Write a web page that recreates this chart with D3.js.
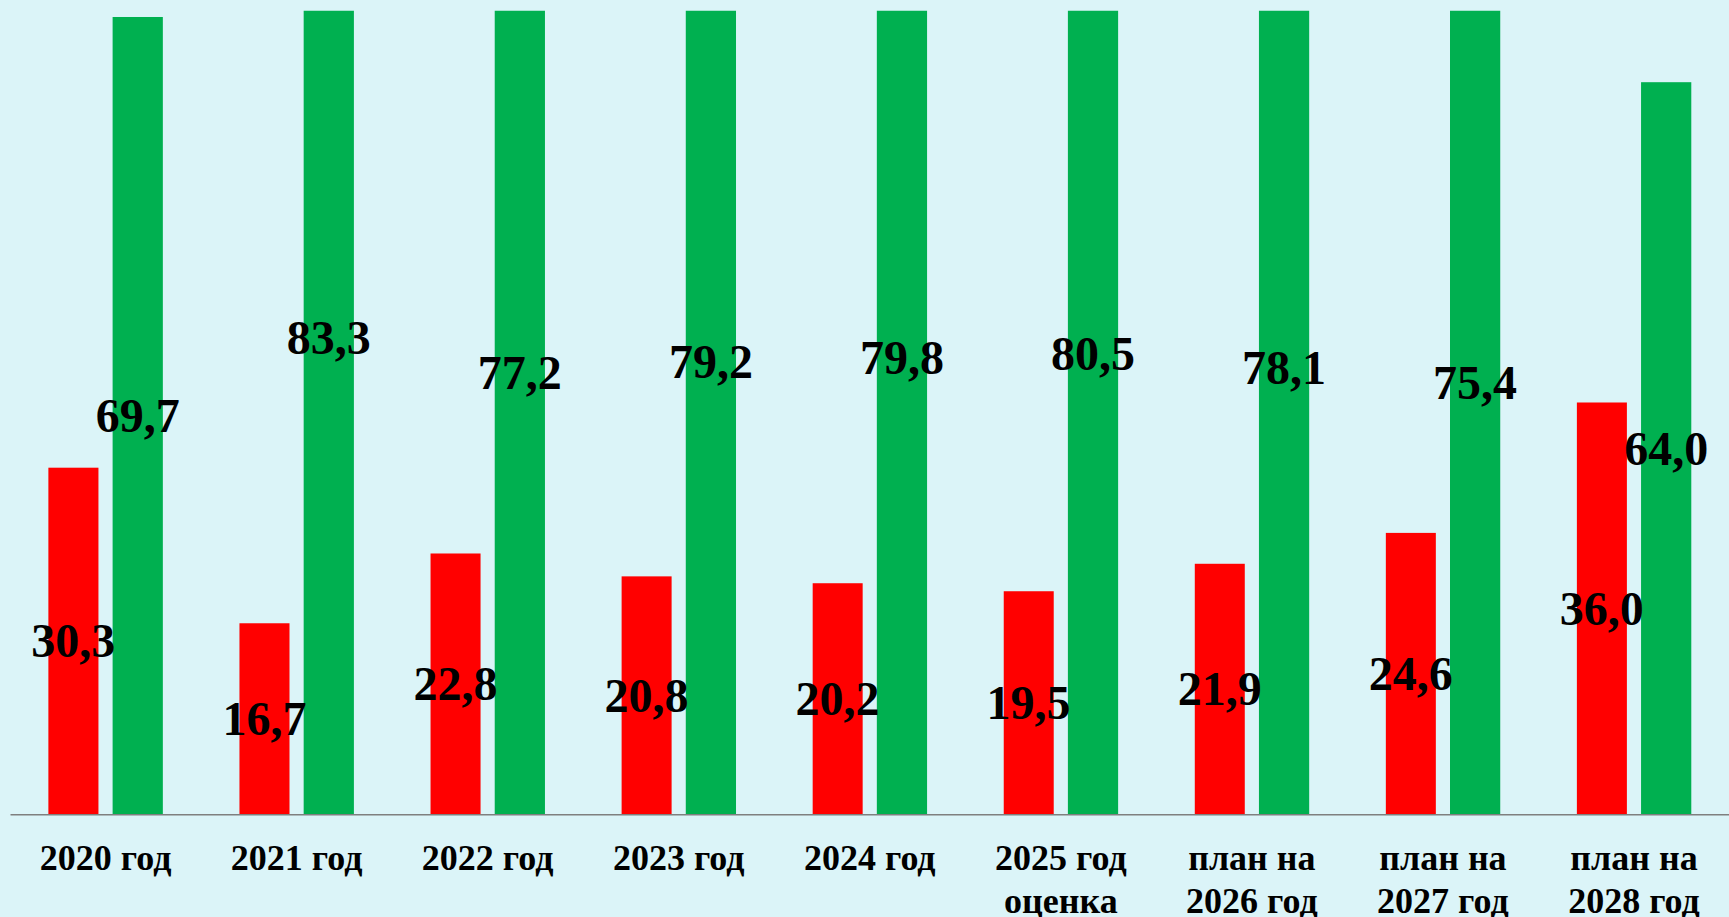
<!DOCTYPE html>
<html>
<head>
<meta charset="utf-8">
<script src="https://cdn.jsdelivr.net/npm/d3@7"></script>
<style>
  html, body { margin: 0; padding: 0; background: #dbf4f8; }
  svg { display: block; }
  .lbl { font-family: "Liberation Serif", "Times New Roman", serif; font-weight: bold; fill: #000; }
</style>
</head>
<body>
<div id="chart"></div>
<script>
var categories = ["2020 год", "2021 год", "2022 год", "2023 год", "2024 год",
    "2025 год\nоценка", "план на\n2026 год", "план на\n2027 год", "план на\n2028 год"];
var seriesKeys = ["red", "green"];
var redValues = [30.3, 16.7, 22.8, 20.8, 20.2, 19.5, 21.9, 24.6, 36.0];
var greenValues = [69.7, 83.3, 77.2, 79.2, 79.8, 80.5, 78.1, 75.4, 64.0];

var width = 1729, height = 917;
var baseY = 814.3, topY = 10.7;
var colors = { red: "#ff0000", green: "#00b050" };

var fmt = function(v) { return d3.format(".1f")(v).replace(".", ","); };

var svg = d3.select("#chart").append("svg")
    .attr("width", width)
    .attr("height", height);

svg.append("rect").attr("width", width).attr("height", height).attr("fill", "#dbf4f8");

var x0 = d3.scaleBand().domain(categories).range([10, 1729.5])
    .paddingInner(0.4).paddingOuter(0.2);
var x1 = d3.scaleBand().domain(seriesKeys).range([0, x0.bandwidth()]).paddingInner(0.22);
// visible part of the value axis ends near 70, taller bars are cut off
var y = d3.scaleLinear().domain([0, 70.25]).range([baseY, topY]);

svg.append("clipPath").attr("id", "plot-clip")
    .append("rect").attr("x", 0).attr("y", topY).attr("width", width).attr("height", baseY - topY);

var rows = categories.map(function(c, i) {
    return { cat: c, values: [{ key: "red", v: redValues[i] }, { key: "green", v: greenValues[i] }] };
});

var groups = svg.selectAll(".grp")
    .data(rows).enter()
    .append("g")
    .attr("class", "grp")
    .attr("transform", function(d) { return "translate(" + x0(d.cat) + ",0)"; });

groups.selectAll("rect")
    .data(function(d) { return d.values; }).enter()
    .append("rect")
    .attr("clip-path", "url(#plot-clip)")
    .attr("x", function(d) { return x1(d.key); })
    .attr("y", function(d) { return y(d.v); })
    .attr("width", x1.bandwidth())
    .attr("height", function(d) { return baseY - y(d.v); })
    .attr("fill", function(d) { return colors[d.key]; });

// labels sit at the middle of the full (uncut) bar
groups.selectAll("text")
    .data(function(d) { return d.values; }).enter()
    .append("text")
    .attr("class", "lbl")
    .attr("x", function(d) { return x1(d.key) + x1.bandwidth() / 2; })
    .attr("y", function(d) { return y(d.v / 2); })
    .attr("dy", "0.34em")
    .attr("text-anchor", "middle")
    .style("font-size", "48px")
    .text(function(d) { return fmt(d.v); });

var xAxis = d3.axisBottom(x0).tickSize(0).tickSizeOuter(0);
var ax = svg.append("g")
    .attr("transform", "translate(0," + baseY + ")")
    .call(xAxis);

ax.select(".domain").attr("stroke", "#7f7f7f").attr("stroke-width", 1.6);

ax.selectAll(".tick text").each(function(d) {
    var t = d3.select(this);
    t.text(null)
        .attr("class", "lbl")
        .attr("y", 0)
        .attr("dy", null)
        .attr("fill", "#000")
        .style("font-size", "36px");
    d.split("\n").forEach(function(line, i) {
        t.append("tspan").attr("x", 0).attr("y", 56 + i * 43).text(line);
    });
});
ax.attr("font-family", null).attr("font-size", null);
</script>
</body>
</html>
